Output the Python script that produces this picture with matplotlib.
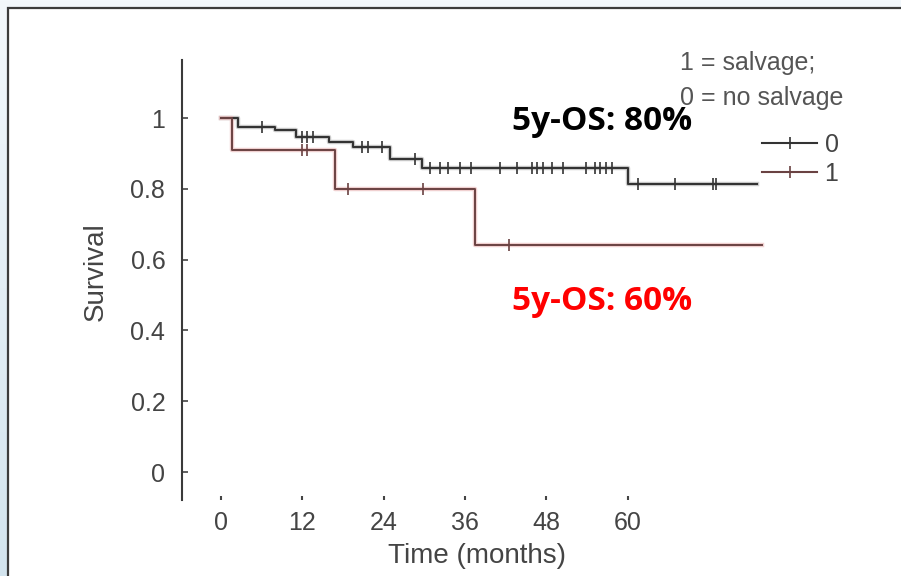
import numpy as np
import matplotlib
matplotlib.use("Agg")
import matplotlib.pyplot as plt
from matplotlib.lines import Line2D
from matplotlib.patches import Rectangle

# Kaplan-Meier steps (months, survival)
t_no_salvage = [0, 2.5, 8, 11, 16, 19.5, 25, 29.6, 60, 79]
s_no_salvage = [1.0, 0.975, 0.965, 0.947, 0.933, 0.918, 0.885, 0.859, 0.814, 0.814]
cens_no_salvage = [6, 12, 12.7, 13.6, 20.8, 21.7, 23.7, 28.6, 30.8, 32.3, 33.5,
                   35.2, 36.9, 41.1, 43.7, 45.9, 46.6, 47.5, 48.8, 50.4, 53.8,
                   55.2, 55.9, 56.8, 57.7, 61.5, 67, 72.6, 73]

t_salvage = [0, 1.6, 16.8, 37.5, 79.8]
s_salvage = [1.0, 0.91, 0.80, 0.641, 0.641]
cens_salvage = [12, 12.7, 18.7, 29.8, 42.5]

xticks = [0, 12, 24, 36, 48, 60]
yticks = [0, 0.2, 0.4, 0.6, 0.8, 1]
ytick_labels = ["0", "0.2", "0.4", "0.6", "0.8", "1"]

black_col = "#333333"
red_col = "#6a4242"

plt.rcParams["font.family"] = ["Liberation Sans", "DejaVu Sans"]


def surv_at(times, surv, pts):
    idx = np.searchsorted(times, pts, side="right") - 1
    return np.asarray(surv)[idx]


fig = plt.figure(figsize=(9.01, 5.76), dpi=100)

# slide background + white panel with dark frame
bg = fig.add_axes([0, 0, 1, 1], zorder=0)
grad = np.linspace(0, 1, 256).reshape(-1, 1)
cmap = matplotlib.colors.LinearSegmentedColormap.from_list("bg", ["#f3f8fc", "#d3e4ee"])
bg.imshow(grad, aspect="auto", cmap=cmap, extent=[0, 1, 0, 1])
bg.add_patch(Rectangle((8 / 901, -0.05), 1.1, 1 - 8 / 576 + 0.05,
                       facecolor="white", edgecolor="#3c3c3c", lw=1.6))
bg.set_xlim(0, 1)
bg.set_ylim(0, 1)
bg.axis("off")

ax = fig.add_axes([182 / 901, 76 / 576, 658 / 901, 440 / 576], zorder=1)
ax.patch.set_alpha(0)

# soft halos then the curves
ax.step(t_no_salvage, s_no_salvage, where="post", color="#b8b8b8", lw=3.2, alpha=0.7)
ax.step(t_salvage, s_salvage, where="post", color="#ebbcbc", lw=3.2, alpha=0.7)
ax.step(t_no_salvage, s_no_salvage, where="post", color=black_col, lw=1.5)
ax.step(t_salvage, s_salvage, where="post", color=red_col, lw=1.4)
ax.plot(cens_no_salvage, surv_at(t_no_salvage, s_no_salvage, cens_no_salvage),
        ls="none", marker="|", ms=8, mew=1.2, color=black_col)
ax.plot(cens_salvage, surv_at(t_salvage, s_salvage, cens_salvage),
        ls="none", marker="|", ms=8, mew=1.2, color=red_col)

ax.set_xlim(-5.75, 91.3)
ax.set_ylim(-0.079, 1.164)

for side in ["top", "right", "bottom"]:
    ax.spines[side].set_visible(False)
ax.spines["left"].set_color("#3a3a3a")
ax.spines["left"].set_linewidth(1.5)

ax.set_xticks(xticks)
ax.set_xticklabels([str(v) for v in xticks])
ax.set_yticks(yticks)
ax.set_yticklabels(ytick_labels)
ax.tick_params(axis="x", direction="in", length=3, width=1.5, colors="#444444",
               labelsize=18, pad=8)
ax.tick_params(axis="y", direction="in", length=4, width=1.2, colors="#444444",
               labelsize=18, pad=12)

ax.set_xlabel("Time (months)", fontsize=20, color="#444444")
ax.xaxis.set_label_coords(0.448, -0.098)
ax.set_ylabel("Survival", fontsize=20, color="#444444")
ax.yaxis.set_label_coords(-0.112, 0.518)

handles = [Line2D([], [], color=black_col, lw=1.5, marker="|", ms=8, mew=1.2),
           Line2D([], [], color=red_col, lw=1.5, marker="|", ms=8, mew=1.2)]
leg = ax.legend(handles, ["0", "1"], loc="upper left",
                bbox_to_anchor=(762 / 901, 1 - 133 / 576), bbox_transform=fig.transFigure,
                frameon=False, fontsize=18, handlelength=2.2, handletextpad=0.3,
                borderpad=0, borderaxespad=0, labelspacing=0.2, numpoints=1)
for txt in leg.get_texts():
    txt.set_color("#444444")

fig.text(680 / 901, 1 - 63 / 576, "1 = salvage;", fontsize=18, color="#555555",
         va="center", ha="left")
fig.text(680 / 901, 1 - 98 / 576, "0 = no salvage", fontsize=18, color="#555555",
         va="center", ha="left")

fig.text(512 / 901, 1 - 122 / 576, "5y-OS: 80%", fontsize=24, fontweight="bold",
         family="Open Sans", color="black", va="center", ha="left")
fig.text(512 / 901, 1 - 302 / 576, "5y-OS: 60%", fontsize=24, fontweight="bold",
         family="Open Sans", color="#ff0000", va="center", ha="left")

fig.savefig("out.png", dpi=100)
